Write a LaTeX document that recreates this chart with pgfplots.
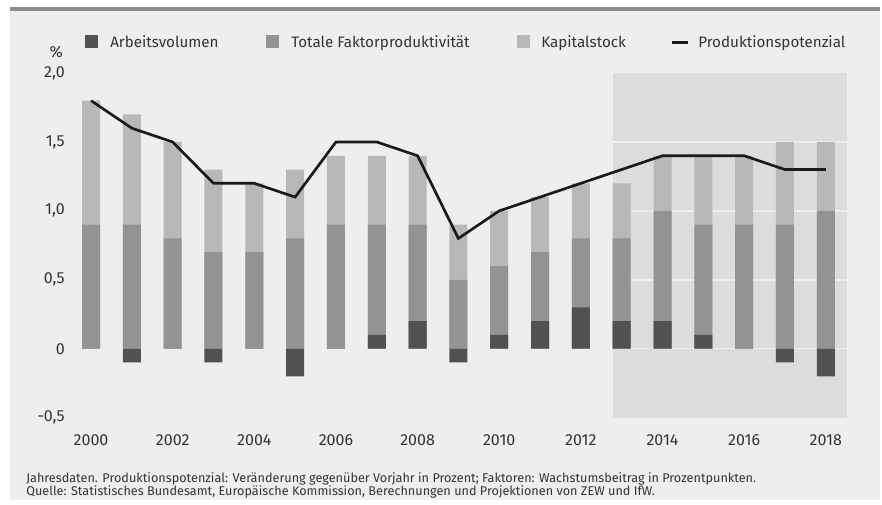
\documentclass[border=0pt]{standalone}
\usepackage{pgfplots}
\usepackage{pgfplotstable}
\pgfplotsset{compat=1.18}
\usepackage{fontspec}
\setmainfont{Fira Sans}
\definecolor{bgc}{HTML}{EDEEED}
\definecolor{shadec}{HTML}{DDDCDB}
\definecolor{topbar}{HTML}{8C8C8C}
\definecolor{arbc}{HTML}{515151}
\definecolor{tfpc}{HTML}{939393}
\definecolor{kapc}{HTML}{B8B8B8}
\definecolor{txt}{HTML}{333333}
\definecolor{linec}{HTML}{1A1A1A}
% year, Arbeitsvolumen, TFP, Kapitalstock, top of TFP bar, top of Kapital bar, Produktionspotenzial
\pgfplotstableread{
year arb tfp kap tfptop total pot
2000 0 0.9 0.9 0.9 1.8 1.8
2001 -0.1 0.9 0.8 0.9 1.7 1.6
2002 0 0.8 0.7 0.8 1.5 1.5
2003 -0.1 0.7 0.6 0.7 1.3 1.2
2004 0 0.7 0.5 0.7 1.2 1.2
2005 -0.2 0.8 0.5 0.8 1.3 1.1
2006 0 0.9 0.5 0.9 1.4 1.5
2007 0.1 0.8 0.5 0.9 1.4 1.5
2008 0.2 0.7 0.5 0.9 1.4 1.4
2009 -0.1 0.5 0.4 0.5 0.9 0.8
2010 0.1 0.5 0.4 0.6 1.0 1.0
2011 0.2 0.5 0.4 0.7 1.1 1.1
2012 0.3 0.5 0.4 0.8 1.2 1.2
2013 0.2 0.6 0.4 0.8 1.2 1.3
2014 0.2 0.8 0.4 1.0 1.4 1.4
2015 0.1 0.8 0.5 0.9 1.4 1.4
2016 0 0.9 0.5 0.9 1.4 1.4
2017 -0.1 0.9 0.6 0.9 1.5 1.3
2018 -0.2 1.0 0.5 1.0 1.5 1.3
}\data
\begin{document}
\begin{tikzpicture}
\path[use as bounding box, fill=white] (0pt,0pt) rectangle (661.5pt,-378pt);
\fill[bgc] (7.5pt,-5.5pt) rectangle (660pt,-375pt);
\fill[topbar] (7.5pt,-5.5pt) rectangle (660pt,-8.25pt);
% legend
\fill[arbc] (63.75pt,-26.6pt) rectangle (73.5pt,-36pt);
\node[anchor=base west, inner sep=0pt, text=txt, font=\fontsize{11.4}{13}\selectfont] at (82.5pt,-35.5pt) {Arbeitsvolumen};
\fill[tfpc] (199.5pt,-26.6pt) rectangle (209.25pt,-36pt);
\node[anchor=base west, inner sep=0pt, text=txt, font=\fontsize{11.4}{13}\selectfont] at (218.25pt,-35.5pt) {Totale Faktorproduktivität};
\fill[kapc] (387.75pt,-26.6pt) rectangle (397.5pt,-36pt);
\node[anchor=base west, inner sep=0pt, text=txt, font=\fontsize{11.4}{13}\selectfont] at (405.75pt,-35.5pt) {Kapitalstock};
\draw[linec, line width=2.25pt] (504pt,-31.5pt) -- (516pt,-31.5pt);
\node[anchor=base west, inner sep=0pt, text=txt, font=\fontsize{11.4}{13}\selectfont] at (523.5pt,-35.5pt) {Produktionspotenzial};
\node[anchor=base east, inner sep=0pt, text=txt, font=\fontsize{12}{14}\selectfont] at (47.25pt,-43pt) {\%};
% footnote
\node[anchor=base west, inner sep=0pt, text=txt, font=\fontsize{9.5}{11}\selectfont] at (19.5pt,-361.5pt) {Jahresdaten. Produktionspotenzial: Veränderung gegenüber Vorjahr in Prozent; Faktoren: Wachstumsbeitrag in Prozentpunkten.};
\node[anchor=base west, inner sep=0pt, text=txt, font=\fontsize{9.5}{11}\selectfont] at (19.5pt,-371.6pt) {Quelle: Statistisches Bundesamt, Europäische Kommission, Berechnungen und Projektionen von ZEW und IfW.};
\begin{axis}[
  at={(37.65pt,-313.2pt)}, anchor=south west,
  scale only axis, width=612.3pt, height=258.4pt,
  xmin=1999, xmax=2019, ymin=-0.5, ymax=2.0,
  axis line style={draw=none}, major tick length=0pt,
  xtick={2000,2002,2004,2006,2008,2010,2012,2014,2016,2018},
  xticklabels={2000,2002,2004,2006,2008,2010,2012,2014,2016,2018},
  ytick={-0.5,0,0.5,1,1.5,2},
  yticklabels={{-0,5},{0},{0,5},{1,0},{1,5},{2,0}},
  yticklabel style={anchor=east, inner sep=0pt, xshift=11.1pt},
  xticklabel style={anchor=center, inner sep=0pt, yshift=-16.8pt},
  ticklabel style={font=\fontsize{12}{14}\selectfont, text=txt},
  clip=false,
]
\fill[shadec] (axis cs:2012.779,-0.5) rectangle (axis cs:2018.53,2.0);
\foreach \g in {0,0.5,1,1.5}{
  \edef\tmp{\noexpand\draw[bgc, line width=1.1pt] (axis cs:2012.779,\g) -- (axis cs:2018.53,\g);}\tmp
}
\addplot[ybar, bar width=13.5pt, bar shift=0pt, fill=kapc, draw=none] table[x=year,y=total]{\data};
\addplot[ybar, bar width=13.5pt, bar shift=0pt, fill=tfpc, draw=none] table[x=year,y=tfptop]{\data};
\addplot[ybar, bar width=13.5pt, bar shift=0pt, fill=arbc, draw=none] table[x=year,y=arb]{\data};
\addplot[sharp plot, linec, line width=2pt, mark=none, line join=miter] table[x=year,y=pot]{\data};
\end{axis}
\end{tikzpicture}
\end{document}
